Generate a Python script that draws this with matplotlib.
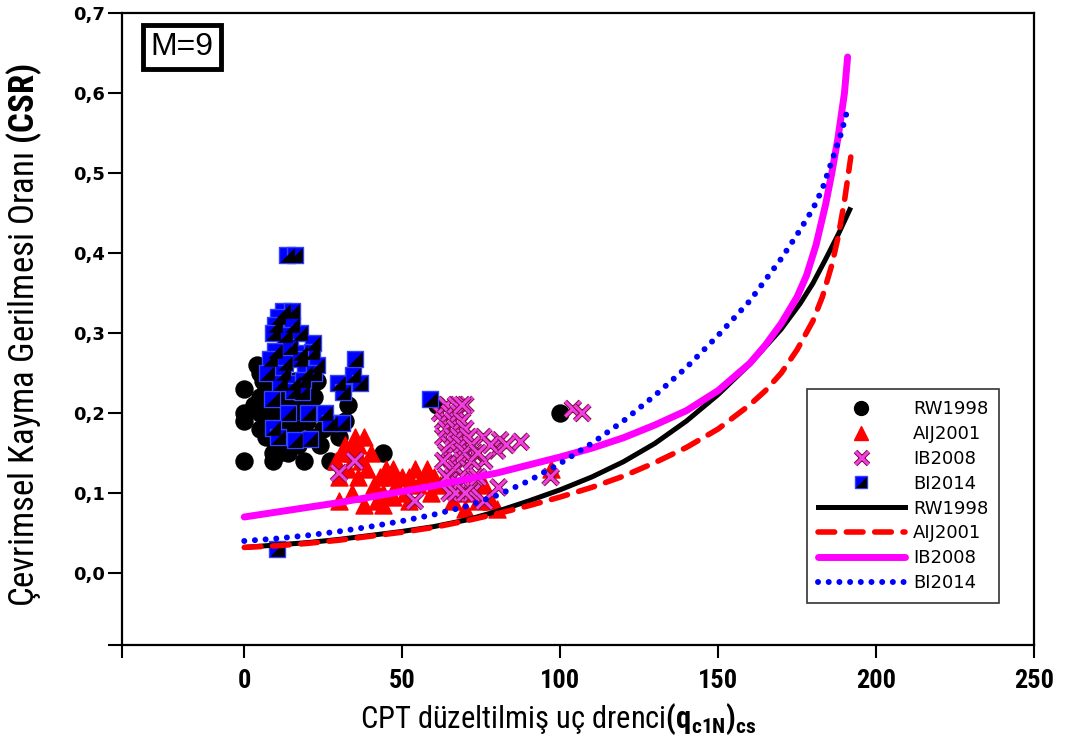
import matplotlib
matplotlib.use("Agg")
import matplotlib.pyplot as plt
from matplotlib import font_manager
from matplotlib.lines import Line2D
from matplotlib.legend_handler import HandlerTuple
import matplotlib.patheffects as pe


def pick(*names):
    for n in names:
        try:
            font_manager.findfont(font_manager.FontProperties(family=n), fallback_to_default=False)
            return n
        except ValueError:
            pass
    return "DejaVu Sans"


NARROW = pick("Liberation Sans Narrow", "Roboto Condensed", "Liberation Sans")
REG = pick("Liberation Sans", "DejaVu Sans")
plt.rcParams["mathtext.fontset"] = "custom"
plt.rcParams["mathtext.rm"] = NARROW
plt.rcParams["mathtext.bf"] = NARROW + ":bold"
plt.rcParams["mathtext.it"] = NARROW + ":italic"

# ---------------- data ----------------
rw_x = [0, 0, 0, 0, 4, 5, 5, 5, 5, 6, 6, 7, 7, 7, 8, 8, 8, 9, 9, 10, 10, 10, 11, 11,
        12, 12, 13, 14, 14, 15, 16, 16, 17, 18, 19, 20, 21, 23, 24, 25, 27, 30, 32, 33,
        44, 61, 100, 3, 22]
rw_y = [0.23, 0.20, 0.19, 0.14, 0.26, 0.25, 0.22, 0.18, 0.20, 0.24, 0.21, 0.23, 0.19, 0.17,
        0.26, 0.22, 0.20, 0.15, 0.14, 0.24, 0.18, 0.16, 0.21, 0.15,
        0.23, 0.19, 0.17, 0.22, 0.15, 0.20, 0.24, 0.18, 0.16, 0.21, 0.14, 0.19, 0.17, 0.24,
        0.16, 0.18, 0.14, 0.17, 0.19, 0.21, 0.15, 0.21, 0.20, 0.21, 0.22]

aij_x = [29, 30, 31, 32, 33, 34, 35, 36, 37, 38, 36, 34, 39, 40, 41, 42, 43, 44, 45, 46,
         47, 48, 50, 51, 52, 54, 55, 57, 58, 59, 60, 62, 64, 66, 68, 70, 72, 74, 76, 78,
         80, 97, 30, 38, 44, 52, 47]
aij_y = [0.14, 0.12, 0.15, 0.16, 0.13, 0.15, 0.17, 0.16, 0.14, 0.17, 0.12, 0.10, 0.13, 0.15,
         0.11, 0.09, 0.12, 0.10, 0.13, 0.12, 0.13, 0.11, 0.12, 0.10, 0.12, 0.13, 0.11, 0.12,
         0.13, 0.10, 0.12, 0.11, 0.12, 0.09, 0.10, 0.08, 0.10, 0.09, 0.11, 0.09, 0.08, 0.13,
         0.09, 0.085, 0.085, 0.09, 0.095]

ib_x = [30, 35, 54, 72, 76, 97, 104, 107, 75.7, 81, 87.5, 80, 80.5, 71.6, 78, 83, 73, 76,
        62, 63, 63, 64, 64, 64, 65, 65, 65, 66, 66, 66, 66, 67, 67, 67, 67, 68, 68, 68, 68,
        69, 69, 69, 70, 70, 70, 70, 71, 71, 72, 72, 73, 74, 69, 63, 64, 65, 67, 70, 74]
ib_y = [0.125, 0.14, 0.09, 0.10, 0.09, 0.12, 0.205, 0.20, 0.17, 0.166, 0.164, 0.153, 0.107,
        0.107, 0.16, 0.16, 0.15, 0.14,
        0.20, 0.19, 0.17, 0.21, 0.18, 0.15, 0.20, 0.16, 0.13, 0.19, 0.17, 0.14, 0.12, 0.21,
        0.18, 0.16, 0.13, 0.20, 0.17, 0.15, 0.11, 0.19, 0.16, 0.14, 0.21, 0.18, 0.15, 0.12,
        0.17, 0.13, 0.16, 0.14, 0.12, 0.15, 0.21, 0.14, 0.12, 0.10, 0.10, 0.10, 0.12]

bi_x = [13.6, 16.2, 12.4, 15.2, 10.8, 9.8, 15.2, 9.2, 13.0, 17.7, 21.9, 9.8, 14.6, 17.7,
        21.5, 8.2, 13.0, 17.7, 23.0, 7.3, 12.4, 19.3, 22.0, 11.4, 15.5, 18.7, 15.5, 18.4,
        8.9, 13.9, 20.3, 25.7, 9.2, 10.8, 16.2, 20.9, 27.2, 31.0, 35.2, 29.8, 34.5, 36.8,
        31.4, 58.9, 10.5]
bi_y = [0.397, 0.397, 0.328, 0.328, 0.32, 0.31, 0.31, 0.30, 0.297, 0.30, 0.288, 0.278,
        0.282, 0.275, 0.276, 0.268, 0.263, 0.268, 0.26, 0.25, 0.25, 0.25, 0.25, 0.237,
        0.237, 0.241, 0.228, 0.226, 0.218, 0.20, 0.20, 0.20, 0.181, 0.17, 0.166, 0.168,
        0.188, 0.188, 0.268, 0.238, 0.247, 0.238, 0.226, 0.218, 0.03]

rw_curve_x = [0, 10, 20, 30, 40, 50, 60, 70, 80, 90, 100, 110, 120, 130, 140, 150, 160,
              170, 176, 180, 184, 188, 192]
rw_curve_y = [0.032, 0.035, 0.038, 0.042, 0.047, 0.052, 0.058, 0.066, 0.077, 0.09, 0.104,
              0.12, 0.139, 0.162, 0.19, 0.223, 0.261, 0.305, 0.337, 0.362, 0.392, 0.423, 0.457]

aij_curve_x = [0, 10, 20, 30, 40, 50, 60, 70, 80, 90, 100, 110, 120, 130, 140, 150, 160,
               165, 170, 175, 180, 183, 186, 188, 190, 192]
aij_curve_y = [0.032, 0.034, 0.037, 0.041, 0.046, 0.051, 0.057, 0.065, 0.074, 0.084, 0.095,
               0.107, 0.121, 0.138, 0.157, 0.18, 0.21, 0.228, 0.25, 0.279, 0.315, 0.345, 0.385,
               0.42, 0.465, 0.52]

ib_curve_x = [0, 10, 20, 30, 40, 50, 60, 70, 80, 90, 100, 110, 120, 130, 140, 150, 160,
              165, 170, 175, 178, 181, 184, 186, 188, 190, 191]
ib_curve_y = [0.07, 0.076, 0.082, 0.088, 0.095, 0.102, 0.109, 0.117, 0.125, 0.135, 0.145,
              0.156, 0.169, 0.185, 0.203, 0.228, 0.262, 0.285, 0.312, 0.345, 0.372, 0.41,
              0.46, 0.5, 0.545, 0.6, 0.645]

bi_curve_x = [0, 10, 20, 30, 40, 50, 60, 70, 80, 90, 100, 110, 120, 130, 140, 150, 160,
              170, 175, 180, 183, 186, 189, 191]
bi_curve_y = [0.04, 0.043, 0.047, 0.052, 0.058, 0.065, 0.073, 0.083, 0.097, 0.115, 0.137,
              0.162, 0.19, 0.222, 0.257, 0.297, 0.34, 0.393, 0.423, 0.455, 0.48, 0.515, 0.55,
              0.58]

x_ticks = [-38.7, 0, 50, 100, 150, 200, 250]
x_tick_labels = ["", "0", "50", "100", "150", "200", "250"]
y_ticks = [-0.09, 0.0, 0.1, 0.2, 0.3, 0.4, 0.5, 0.6, 0.7]
y_tick_labels = ["", "0,0", "0,1", "0,2", "0,3", "0,4", "0,5", "0,6", "0,7"]
legend_labels = ["RW1998", "AIJ2001", "IB2008", "BI2014", "RW1998", "AIJ2001", "IB2008", "BI2014"]

# ---------------- figure ----------------
fig = plt.figure(figsize=(10.65, 7.49), dpi=100)
ax = fig.add_axes([0.11455, 0.13885, 0.85634, 0.84379])

# half-filled square marker (lower-right black triangle)
tri_lr = [(-0.5, -0.5), (0.5, -0.5), (0.5, 0.5), (-0.5, -0.5)]
xstroke = [pe.withStroke(linewidth=3.6, foreground="#7a0a40")]
XCOL = "#f040e0"

ax.scatter(rw_x, rw_y, s=150, marker="o", color="black", zorder=2)
ax.scatter(aij_x, aij_y, s=150, marker="^", color="#ff0000", zorder=3)
ax.scatter(ib_x, ib_y, s=120, marker="x", color=XCOL, linewidths=2.2,
           path_effects=xstroke, zorder=4)
ax.scatter(bi_x, bi_y, s=140, marker="s", facecolor="#0000ff", edgecolor="#3344ff",
           linewidths=1.0, zorder=5)
ax.scatter(bi_x, bi_y, s=110, marker=tri_lr, color="black", linewidths=0, zorder=6)

ax.plot(rw_curve_x, rw_curve_y, color="black", lw=3.6, solid_capstyle="butt", zorder=7)
ax.plot(aij_curve_x, aij_curve_y, color="#ff0000", lw=4.0, dashes=(3.0, 2.1),
        dash_capstyle="round", zorder=7)
ax.plot(ib_curve_x, ib_curve_y, color="#ff00ff", lw=5.0, solid_capstyle="round", zorder=8)
ax.plot(bi_curve_x, bi_curve_y, color="#0000ff", lw=4.3, dashes=(0.01, 1.78),
        dash_capstyle="round", zorder=9)

ax.set_xlim(-38.7, 250)
ax.set_ylim(-0.09, 0.7)
ax.set_xticks(x_ticks)
ax.set_xticklabels(x_tick_labels, fontfamily=NARROW, fontweight="bold", fontsize=19)
ax.set_yticks(y_ticks)
ax.set_yticklabels(y_tick_labels, fontfamily="DejaVu Sans", fontweight="bold", fontsize=13)
ax.tick_params(axis="x", direction="out", length=9, width=1.5, pad=8)
ax.tick_params(axis="y", direction="out", length=10, width=1.5, pad=2)
for sp in ax.spines.values():
    sp.set_linewidth(1.6)

ax.set_xlabel(r"CPT düzeltilmiş uç drenci$\mathbf{(q_{c1N})_{cs}}$",
              fontfamily=NARROW, fontsize=22)
ax.xaxis.set_label_coords(0.478, -0.09)
ax.set_ylabel(r"Çevrimsel Kayma Gerilmesi Oranı $\mathbf{(CSR)}$",
              fontfamily=NARROW, fontsize=25)
ax.yaxis.set_label_coords(-0.086, 0.49)

ax.text(0.0658, 0.946, "M=9", transform=ax.transAxes, ha="center", va="center",
        fontfamily=REG, fontsize=23,
        bbox=dict(boxstyle="square,pad=0.22", facecolor="white", edgecolor="black",
                  linewidth=3.5), zorder=10)

# legend
h_rw = Line2D([], [], marker="o", color="black", ls="none", markersize=10)
h_aij = Line2D([], [], marker="^", color="#ff0000", ls="none", markersize=10)
h_ib = Line2D([], [], marker="x", color=XCOL, ls="none", markersize=9,
              markeredgewidth=2.2, path_effects=xstroke)
h_bi_a = Line2D([], [], marker="s", markerfacecolor="#0000ff", markeredgecolor="#3344ff",
                ls="none", markersize=9, markeredgewidth=1.0)
h_bi_b = Line2D([], [], marker=tri_lr, color="black", ls="none", markersize=8,
                markeredgewidth=0)
l_rw = Line2D([], [], color="black", lw=3.6)
l_aij = Line2D([], [], color="#ff0000", lw=4.0, dashes=(3.0, 2.1), dash_capstyle="round")
l_ib = Line2D([], [], color="#ff00ff", lw=5.0, solid_capstyle="round")
l_bi = Line2D([], [], color="#0000ff", lw=4.3, dashes=(0.01, 1.78), dash_capstyle="round")

leg = ax.legend([h_rw, h_aij, h_ib, (h_bi_a, h_bi_b), l_rw, l_aij, l_ib, l_bi],
                legend_labels,
                handler_map={tuple: HandlerTuple(ndivide=1, pad=0)},
                loc="lower right", bbox_to_anchor=(0.9715, 0.0522),
                prop={"family": "DejaVu Sans", "size": 13},
                handlelength=4.8, handletextpad=0.45, labelspacing=0.38,
                borderpad=0.6, fancybox=False, framealpha=1, edgecolor="#333333",
                numpoints=1)
leg.get_frame().set_linewidth(1.2)
leg.set_zorder(20)

fig.savefig("out.png", dpi=100)
